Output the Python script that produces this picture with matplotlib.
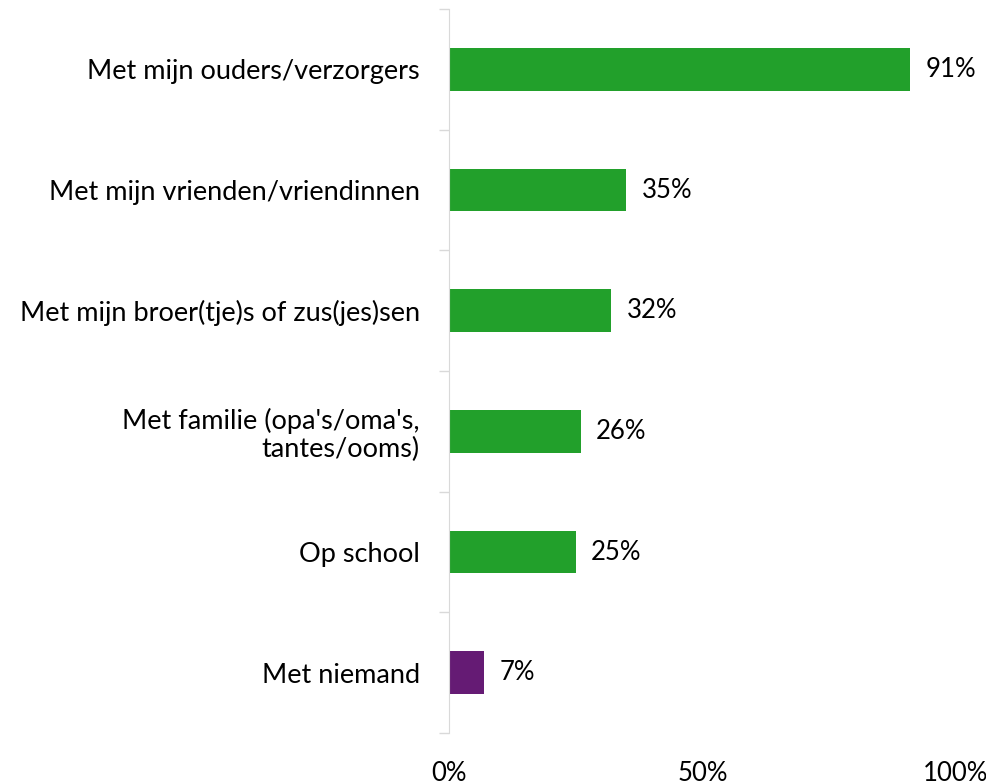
import matplotlib.pyplot as plt
from matplotlib.ticker import FixedLocator, PercentFormatter

categories = [
    "Met mijn ouders/verzorgers",
    "Met mijn vrienden/vriendinnen",
    "Met mijn broer(tje)s of zus(jes)sen",
    "Met familie (opa's/oma's,\ntantes/ooms)",
    "Op school",
    "Met niemand",
]
values = [91, 35, 32, 26, 25, 7]
colors = ["#22A02B"] * 5 + ["#651B74"]

plt.rcParams['font.family'] = ['Lato', 'DejaVu Sans']

fig = plt.figure(figsize=(9.87, 7.84), dpi=100)
ax = fig.add_axes([449 / 987, 1 - 733 / 784, 507 / 987, 724 / 784])

ypos = list(range(len(categories)))
ax.barh(ypos, values, height=0.356, color=colors)
ax.set_xlim(0, 100)
ax.set_ylim(len(categories) - 0.5, -0.5)

for y, v in zip(ypos, values):
    ax.text(v + 3, y, f"{v}%", va="center", ha="left", fontsize=18.5, color="black")

ax.set_yticks(ypos)
ax.set_yticklabels(categories, fontsize=19.5, ha="right", linespacing=1.15)
ax.yaxis.set_minor_locator(FixedLocator([i - 0.5 for i in range(len(categories) + 1)]))
ax.tick_params(axis="y", which="major", length=0, pad=21)
ax.tick_params(axis="y", which="minor", length=7, color="#D9D9D9", width=1)

ax.set_xticks([0, 50, 100])
ax.xaxis.set_major_formatter(PercentFormatter(decimals=0))
ax.tick_params(axis="x", length=0, pad=20, labelsize=18.5)

for s in ["top", "right", "bottom"]:
    ax.spines[s].set_visible(False)
ax.spines["left"].set_color("#D9D9D9")

fig.savefig("out.png", dpi=100)
